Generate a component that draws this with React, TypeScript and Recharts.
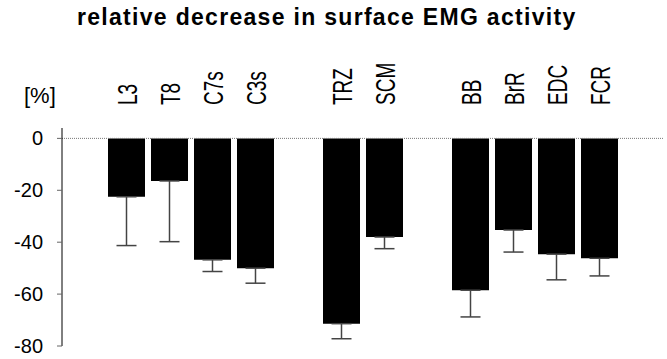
import { BarChart, Bar, XAxis, YAxis, ErrorBar, ReferenceLine } from "recharts";

// blank entries are the gaps between muscle groups
const muscles = ["", "L3", "T8", "C7s", "C3s", "", "TRZ", "SCM", "", "BB", "BrR", "EDC", "FCR", ""];
const decrease = [null, -22.5, -16.4, -46.8, -50, null, -71.4, -38, null, -58.5, -35.3, -44.6, -46.2, null];
const sd = [null, 18.8, 23.4, 4.5, 5.8, null, 5.8, 4.5, null, 10.3, 8.5, 9.9, 6.8, null];
const yTicks = [0, -20, -40, -60, -80];

const data = muscles.map((name, i) => ({
  name,
  value: decrease[i],
  err: sd[i] == null ? null : [sd[i], 0],
}));

const font = "'Liberation Sans', Arial, sans-serif";

function MuscleTick(props: any) {
  const { x, payload } = props;
  const label = muscles[payload.index];
  if (!label) return null;
  return (
    <text
      transform={`translate(${x + 10},105) rotate(-90) scale(1,1.45)`}
      fontSize={19}
      fontFamily={font}
      fill="#000"
      textAnchor="start"
    >
      {label}
    </text>
  );
}

export default function App() {
  return (
    <div style={{ position: "absolute", left: 0, top: 0, width: 667, height: 359, background: "#fff" }}>
      <div
        style={{
          position: "absolute",
          left: 77,
          top: 4,
          whiteSpace: "nowrap",
          fontFamily: font,
          fontWeight: "bold",
          fontSize: 23,
          letterSpacing: 1.3,
        }}
      >
        relative decrease in surface EMG activity
      </div>
      <div style={{ position: "absolute", left: 24, top: 83, fontFamily: font, fontSize: 22 }}>[%]</div>
      <BarChart
        width={667}
        height={359}
        data={data}
        margin={{ top: 108, right: 3, bottom: 13, left: 0 }}
        barCategoryGap={6}
      >
        <XAxis
          dataKey="name"
          orientation="top"
          axisLine={false}
          tickLine={false}
          tick={<MuscleTick />}
          interval={0}
          height={20}
        />
        <YAxis
          domain={[-80, 4]}
          ticks={yTicks}
          width={62}
          axisLine={{ stroke: "#000" }}
          tickLine={{ stroke: "#666" }}
          tickSize={5}
          tickMargin={14}
          tick={{ fontSize: 20, fill: "#000", fontFamily: font }}
        />
        <ReferenceLine y={0} stroke="#777" strokeDasharray="1 1" />
        <Bar dataKey="value" fill="#000" barSize={37} isAnimationActive={false}>
          <ErrorBar dataKey="err" direction="y" width={10} stroke="#444" strokeWidth={1.5} />
        </Bar>
      </BarChart>
    </div>
  );
}
